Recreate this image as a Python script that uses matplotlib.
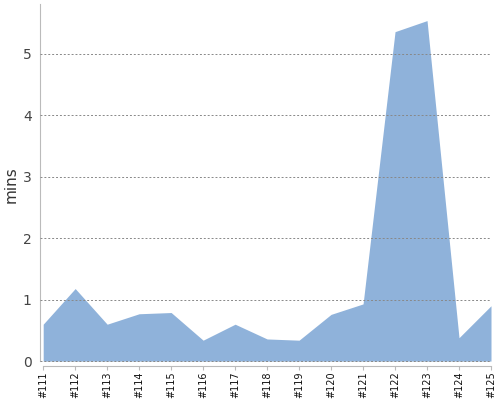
import matplotlib.pyplot as plt

builds = ["#111", "#112", "#113", "#114", "#115", "#116", "#117", "#118",
          "#119", "#120", "#121", "#122", "#123", "#124", "#125"]
build_nums = [111, 112, 113, 114, 115, 116, 117, 118, 119, 120, 121, 122, 123, 124, 125]
mins = [0.60, 1.18, 0.60, 0.77, 0.79, 0.34, 0.60, 0.36, 0.34, 0.76, 0.93, 5.36, 5.54, 0.38, 0.90]

fig = plt.figure(figsize=(5, 4), dpi=100)
ax = fig.add_axes([0.08, 0.085, 0.902, 0.905])

ax.fill_between(build_nums, mins, 0, color="#8fb2da", linewidth=0)

ax.set_xlim(110.9, 125)
ax.set_ylim(-0.08, 5.81)
ax.set_xticks(build_nums)
ax.set_xticklabels(builds, rotation=90, fontsize=7, color="#111111")
ax.set_yticks(range(0, 6))
ax.tick_params(axis="y", length=0, labelsize=10, labelcolor="#444444", pad=6)
ax.tick_params(axis="x", length=3, color="#bbbbbb", pad=1)
ax.set_ylabel("mins", fontsize=11, color="#333333", labelpad=3)

ax.yaxis.grid(True, linestyle=(0, (2, 2)), color="#888888", linewidth=0.7)
ax.set_axisbelow(False)

for s in ["top", "right"]:
    ax.spines[s].set_visible(False)
ax.spines["left"].set_color("#bbbbbb")
ax.spines["bottom"].set_color("#bbbbbb")
ax.spines["bottom"].set_bounds(111, 125)
ax.spines["left"].set_bounds(0, 5.81)

fig.savefig("out.png", dpi=100)
